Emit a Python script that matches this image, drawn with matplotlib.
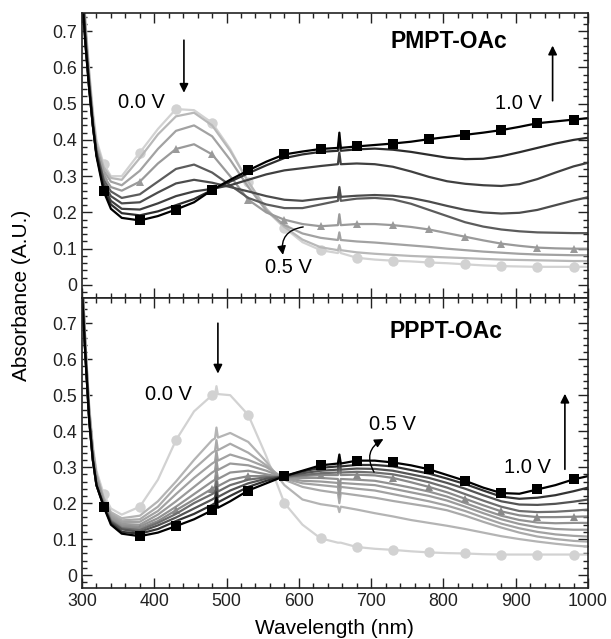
import matplotlib.pyplot as plt
from matplotlib.ticker import MultipleLocator

plt.rcParams['font.family'] = ['Liberation Sans', 'DejaVu Sans']

# ---- PMPT-OAc (top panel), 0.0 V -> 1.0 V ----
wl_top = [300, 305, 310, 315, 320, 330, 340, 355, 380, 405, 430, 455, 480, 505, 530,
          555, 580, 605, 630, 654, 656, 658, 680, 705, 730, 755, 780, 805, 830, 855,
          880, 905, 930, 955, 980, 1000]

pmpt_0 = [0.88, 0.72, 0.59, 0.48, 0.40, 0.333, 0.30, 0.30, 0.365, 0.43, 0.485, 0.482, 0.447,
          0.375, 0.283, 0.205, 0.158, 0.118, 0.096, 0.088, 0.098, 0.088, 0.075, 0.07, 0.067,
          0.065, 0.062, 0.06, 0.057, 0.054, 0.052, 0.051, 0.05, 0.05, 0.05, 0.05]
pmpt_1 = [0.87, 0.71, 0.58, 0.47, 0.39, 0.325, 0.295, 0.29, 0.35, 0.415, 0.465, 0.475, 0.44,
          0.37, 0.285, 0.21, 0.16, 0.125, 0.104, 0.096, 0.11, 0.096, 0.09, 0.086, 0.083,
          0.08, 0.078, 0.076, 0.074, 0.072, 0.07, 0.069, 0.068, 0.067, 0.066, 0.066]
pmpt_2 = [0.86, 0.70, 0.57, 0.46, 0.38, 0.315, 0.285, 0.275, 0.315, 0.375, 0.425, 0.44, 0.41,
          0.345, 0.27, 0.205, 0.165, 0.142, 0.13, 0.124, 0.145, 0.124, 0.12, 0.117, 0.113,
          0.109, 0.105, 0.10, 0.096, 0.092, 0.089, 0.086, 0.084, 0.083, 0.082, 0.082]
pmpt_3 = [0.85, 0.69, 0.56, 0.45, 0.37, 0.30, 0.27, 0.26, 0.285, 0.335, 0.375, 0.388, 0.36,
          0.30, 0.235, 0.20, 0.18, 0.168, 0.162, 0.165, 0.195, 0.165, 0.168, 0.168, 0.165,
          0.16, 0.153, 0.143, 0.133, 0.123, 0.114, 0.108, 0.103, 0.101, 0.10, 0.10]
pmpt_4 = [0.84, 0.68, 0.56, 0.45, 0.37, 0.29, 0.258, 0.24, 0.25, 0.285, 0.32, 0.332, 0.31,
          0.275, 0.24, 0.222, 0.212, 0.212, 0.222, 0.232, 0.262, 0.232, 0.238, 0.24, 0.236,
          0.224, 0.207, 0.19, 0.173, 0.161, 0.153, 0.148, 0.145, 0.144, 0.143, 0.143]
pmpt_5 = [0.83, 0.67, 0.55, 0.44, 0.36, 0.28, 0.245, 0.225, 0.228, 0.255, 0.28, 0.29, 0.282,
          0.27, 0.258, 0.245, 0.235, 0.232, 0.238, 0.243, 0.27, 0.243, 0.246, 0.248, 0.246,
          0.24, 0.23, 0.218, 0.207, 0.20, 0.197, 0.199, 0.207, 0.22, 0.233, 0.242]
pmpt_6 = [0.82, 0.66, 0.54, 0.44, 0.36, 0.272, 0.232, 0.21, 0.208, 0.225, 0.245, 0.258, 0.265,
          0.275, 0.29, 0.305, 0.316, 0.322, 0.328, 0.333, 0.365, 0.333, 0.335, 0.333, 0.326,
          0.313, 0.298, 0.286, 0.279, 0.275, 0.273, 0.278, 0.292, 0.31, 0.327, 0.337]
pmpt_7 = [0.81, 0.66, 0.54, 0.44, 0.36, 0.265, 0.222, 0.198, 0.192, 0.203, 0.22, 0.237, 0.262,
          0.285, 0.308, 0.33, 0.35, 0.36, 0.367, 0.37, 0.40, 0.37, 0.374, 0.376, 0.373,
          0.367, 0.359, 0.351, 0.347, 0.348, 0.355, 0.366, 0.378, 0.39, 0.40, 0.406]
pmpt_8 = [0.80, 0.66, 0.54, 0.44, 0.355, 0.258, 0.21, 0.185, 0.178, 0.19, 0.208, 0.228, 0.262,
          0.29, 0.316, 0.34, 0.36, 0.368, 0.375, 0.378, 0.42, 0.378, 0.382, 0.386, 0.39,
          0.395, 0.402, 0.408, 0.414, 0.42, 0.427, 0.436, 0.446, 0.451, 0.456, 0.46]

# ---- PPPT-OAc (bottom panel), 0.0 V -> 1.0 V ----
wl_bot = [300, 305, 310, 315, 320, 330, 340, 355, 380, 405, 430, 455, 480, 484, 486, 488,
          505, 530, 555, 580, 605, 630, 654, 656, 658, 680, 705, 730, 755, 780, 805, 830,
          855, 880, 905, 930, 955, 980, 1000]

pppt_0 = [0.85, 0.64, 0.47, 0.36, 0.29, 0.225, 0.185, 0.168, 0.19, 0.265, 0.375, 0.455, 0.50,
          0.502, 0.525, 0.503, 0.50, 0.445, 0.33, 0.20, 0.14, 0.102, 0.09, 0.09, 0.09, 0.078,
          0.073, 0.07, 0.066, 0.063, 0.061, 0.06, 0.058, 0.057, 0.057, 0.057, 0.057, 0.057, 0.057]
pppt_1 = [0.84, 0.63, 0.46, 0.35, 0.28, 0.215, 0.175, 0.158, 0.165, 0.205, 0.26, 0.32, 0.375,
          0.38, 0.41, 0.382, 0.395, 0.37, 0.315, 0.25, 0.21, 0.197, 0.19, 0.175, 0.19, 0.182,
          0.172, 0.163, 0.153, 0.145, 0.137, 0.128, 0.118, 0.108, 0.10, 0.093, 0.087, 0.082, 0.079]
pppt_2 = [0.84, 0.63, 0.46, 0.35, 0.28, 0.21, 0.17, 0.152, 0.155, 0.19, 0.245, 0.295, 0.34,
          0.345, 0.375, 0.347, 0.365, 0.34, 0.305, 0.265, 0.245, 0.235, 0.228, 0.20, 0.228, 0.222,
          0.215, 0.206, 0.198, 0.19, 0.18, 0.165, 0.148, 0.132, 0.118, 0.107, 0.10, 0.095, 0.093]
pppt_3 = [0.83, 0.62, 0.45, 0.34, 0.27, 0.205, 0.165, 0.147, 0.148, 0.178, 0.225, 0.27, 0.31,
          0.315, 0.345, 0.318, 0.335, 0.32, 0.30, 0.268, 0.255, 0.25, 0.245, 0.215, 0.245, 0.24,
          0.235, 0.225, 0.215, 0.205, 0.193, 0.178, 0.16, 0.143, 0.13, 0.12, 0.113, 0.109, 0.107]
pppt_4 = [0.83, 0.62, 0.45, 0.34, 0.27, 0.203, 0.16, 0.142, 0.14, 0.168, 0.205, 0.245, 0.285,
          0.29, 0.32, 0.292, 0.31, 0.305, 0.29, 0.27, 0.262, 0.26, 0.256, 0.225, 0.256, 0.253,
          0.25, 0.24, 0.23, 0.22, 0.207, 0.19, 0.172, 0.155, 0.142, 0.133, 0.128, 0.126, 0.126]
pppt_5 = [0.82, 0.61, 0.44, 0.33, 0.26, 0.20, 0.155, 0.137, 0.135, 0.158, 0.19, 0.225, 0.26,
          0.265, 0.295, 0.267, 0.285, 0.29, 0.28, 0.271, 0.27, 0.27, 0.267, 0.245, 0.267, 0.265,
          0.262, 0.253, 0.243, 0.232, 0.218, 0.20, 0.182, 0.165, 0.153, 0.146, 0.144, 0.145, 0.145]
pppt_6 = [0.82, 0.61, 0.44, 0.33, 0.26, 0.198, 0.152, 0.133, 0.13, 0.15, 0.18, 0.21, 0.24,
          0.245, 0.275, 0.247, 0.265, 0.275, 0.275, 0.272, 0.275, 0.278, 0.278, 0.30, 0.278, 0.279,
          0.277, 0.27, 0.258, 0.245, 0.23, 0.212, 0.194, 0.177, 0.166, 0.161, 0.161, 0.162, 0.163]
pppt_7 = [0.81, 0.60, 0.43, 0.32, 0.25, 0.196, 0.15, 0.13, 0.125, 0.145, 0.17, 0.20, 0.225,
          0.23, 0.26, 0.232, 0.25, 0.265, 0.272, 0.273, 0.278, 0.283, 0.285, 0.31, 0.285, 0.287,
          0.285, 0.28, 0.27, 0.258, 0.243, 0.225, 0.207, 0.19, 0.178, 0.175, 0.176, 0.179, 0.182]
pppt_8 = [0.80, 0.60, 0.43, 0.32, 0.25, 0.194, 0.147, 0.127, 0.12, 0.138, 0.16, 0.185, 0.21,
          0.215, 0.245, 0.217, 0.235, 0.255, 0.268, 0.274, 0.283, 0.29, 0.293, 0.318, 0.293, 0.296,
          0.295, 0.29, 0.28, 0.27, 0.256, 0.24, 0.222, 0.205, 0.196, 0.195, 0.198, 0.204, 0.21]
pppt_9 = [0.79, 0.60, 0.43, 0.32, 0.25, 0.192, 0.144, 0.12, 0.115, 0.128, 0.15, 0.17, 0.195,
          0.20, 0.23, 0.202, 0.22, 0.245, 0.262, 0.275, 0.288, 0.298, 0.302, 0.325, 0.302, 0.306,
          0.306, 0.302, 0.292, 0.282, 0.268, 0.253, 0.235, 0.218, 0.212, 0.215, 0.222, 0.233, 0.243]
pppt_10 = [0.78, 0.60, 0.43, 0.32, 0.25, 0.19, 0.14, 0.115, 0.108, 0.118, 0.136, 0.155, 0.18,
           0.185, 0.215, 0.187, 0.205, 0.235, 0.255, 0.275, 0.29, 0.305, 0.31, 0.335, 0.31, 0.318,
           0.318, 0.313, 0.305, 0.294, 0.278, 0.262, 0.243, 0.228, 0.226, 0.238, 0.25, 0.266, 0.275]

y_ticks = [0, 0.1, 0.2, 0.3, 0.4, 0.5, 0.6, 0.7]
y_tick_labels = ['0', '0.1', '0.2', '0.3', '0.4', '0.5', '0.6', '0.7']
x_ticks = [300, 400, 500, 600, 700, 800, 900, 1000]

top_curves = [pmpt_0, pmpt_1, pmpt_2, pmpt_3, pmpt_4, pmpt_5, pmpt_6, pmpt_7, pmpt_8]
top_colors = ['#d2d2d2', '#b8b8b8', '#a2a2a2', '#9a9a9a', '#5c5c5c',
              '#4c4c4c', '#404040', '#2c2c2c', '#000000']
top_markers = {0: 'o', 3: '^', 8: 's'}

bot_curves = [pppt_0, pppt_1, pppt_2, pppt_3, pppt_4, pppt_5, pppt_6,
              pppt_7, pppt_8, pppt_9, pppt_10]
bot_colors = ['#d2d2d2', '#b4b4b4', '#aaaaaa', '#a2a2a2', '#9a9a9a', '#929292',
              '#8a8a8a', '#6e6e6e', '#545454', '#333333', '#000000']
bot_markers = {0: 'o', 6: '^', 10: 's'}


def mark_idx(wl):
    return [i for i, w in enumerate(wl) if w >= 330 and (w - 330) % 50 == 0]


def draw_panel(ax, wl, curves, colors, markers):
    idx = mark_idx(wl)
    for i, (vals, col) in enumerate(zip(curves, colors)):
        m = markers.get(i)
        size = {'o': 7.5, 's': 7, '^': 6}.get(m, 0)
        ax.plot(wl, vals, color=col, lw=1.6, marker=m, markersize=size,
                markevery=idx if m else None, markeredgewidth=0, zorder=2 + i * 0.01)


def style_axis(ax, ylim):
    ax.set_xlim(300, 1000)
    ax.set_ylim(*ylim)
    ax.set_yticks(y_ticks)
    ax.set_yticklabels(y_tick_labels)
    ax.set_xticks(x_ticks)
    ax.xaxis.set_minor_locator(MultipleLocator(20))
    ax.yaxis.set_minor_locator(MultipleLocator(0.02))
    ax.tick_params(which='both', direction='in', top=True, right=True,
                   labelsize=12.8, colors='#222222', width=1)
    ax.tick_params(which='major', length=7)
    ax.tick_params(which='minor', length=3.5)
    for s in ax.spines.values():
        s.set_linewidth(1.2)
        s.set_color('#222222')


fig = plt.figure(figsize=(6.11, 6.39), dpi=100)
ax1 = fig.add_axes([0.1342, 0.5336, 0.8282, 0.4461])
ax2 = fig.add_axes([0.1342, 0.0798, 0.8282, 0.4538])

draw_panel(ax1, wl_top, top_curves, top_colors, top_markers)
draw_panel(ax2, wl_bot, bot_curves, bot_colors, bot_markers)
style_axis(ax1, (-0.036, 0.75))
style_axis(ax2, (-0.036, 0.77))
ax1.tick_params(labelbottom=False)

arrow = dict(arrowstyle='-|>', color='k', lw=1.2, mutation_scale=13, shrinkA=0, shrinkB=0)
fs = 14.5

# top annotations
ax1.text(382, 0.503, '0.0 V', fontsize=fs, ha='center', va='center')
ax1.text(904, 0.50, '1.0 V', fontsize=fs, ha='center', va='center')
ax1.text(585, 0.049, '0.5 V', fontsize=fs, ha='center', va='center')
ax1.text(807, 0.67, 'PMPT-OAc', fontsize=16.5, fontweight='bold', ha='center', va='center')
ax1.annotate('', xy=(441, 0.53), xytext=(441, 0.675), arrowprops=arrow)
ax1.annotate('', xy=(951, 0.66), xytext=(951, 0.508), arrowprops=arrow)
ax1.annotate('', xy=(578, 0.083), xytext=(606, 0.16),
             arrowprops=dict(arrow, connectionstyle='arc3,rad=0.5', lw=1.0))

# bottom annotations
ax2.text(419, 0.503, '0.0 V', fontsize=fs, ha='center', va='center')
ax2.text(916, 0.298, '1.0 V', fontsize=fs, ha='center', va='center')
ax2.text(729, 0.419, '0.5 V', fontsize=fs, ha='center', va='center')
ax2.text(803, 0.676, 'PPPT-OAc', fontsize=16.5, fontweight='bold', ha='center', va='center')
ax2.annotate('', xy=(488, 0.56), xytext=(488, 0.70), arrowprops=arrow)
ax2.annotate('', xy=(968, 0.504), xytext=(968, 0.294), arrowprops=arrow)
ax2.annotate('', xy=(717, 0.378), xytext=(704, 0.286),
             arrowprops=dict(arrow, connectionstyle='arc3,rad=-0.5', lw=1.0))

fig.text(0.036, 0.537, 'Absorbance (A.U.)', rotation=90, ha='center', va='center', fontsize=15)
fig.text(0.548, 0.016, 'Wavelength (nm)', ha='center', va='center', fontsize=15)

fig.savefig('out.png', dpi=100)
